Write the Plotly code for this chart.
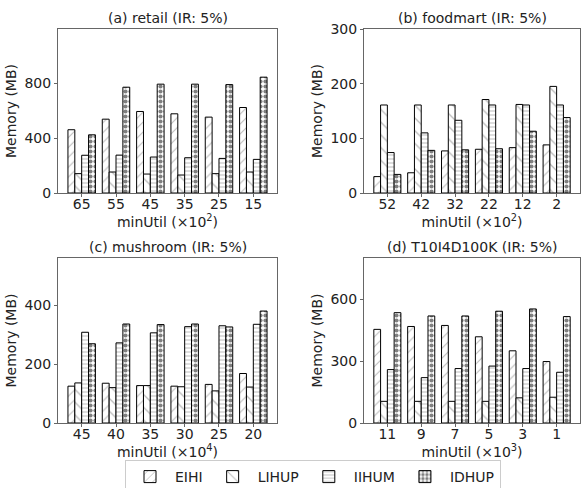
import plotly.graph_objects as go

series = ["EIHI", "LIHUP", "IIHUM", "IDHUP"]

retail_x = ["65", "55", "45", "35", "25", "15"]
retail_EIHI = [461, 538, 594, 577, 553, 623]
retail_LIHUP = [141, 153, 138, 131, 141, 153]
retail_IIHUM = [275, 276, 262, 257, 252, 245]
retail_IDHUP = [424, 771, 793, 793, 790, 844]

foodmart_x = ["52", "42", "32", "22", "12", "2"]
foodmart_EIHI = [30, 37, 77, 80, 83, 88]
foodmart_LIHUP = [161, 161, 161, 171, 162, 195]
foodmart_IIHUM = [74, 110, 133, 161, 161, 161]
foodmart_IDHUP = [34, 78, 79, 81, 113, 138]

mushroom_x = ["45", "40", "35", "30", "25", "20"]
mushroom_EIHI = [125, 135, 127, 125, 131, 168]
mushroom_LIHUP = [136, 120, 127, 123, 109, 122]
mushroom_IIHUM = [308, 272, 306, 327, 330, 335]
mushroom_IDHUP = [269, 336, 334, 336, 326, 380]

t10_x = ["11", "9", "7", "5", "3", "1"]
t10_EIHI = [454, 468, 473, 418, 350, 298]
t10_LIHUP = [105, 105, 105, 105, 122, 125]
t10_IIHUM = [259, 220, 264, 276, 264, 246]
t10_IDHUP = [535, 519, 519, 542, 553, 516]

titles = ["(a) retail (IR: 5%)", "(b) foodmart (IR: 5%)",
          "(c) mushroom (IR: 5%)", "(d) T10I4D100K (IR: 5%)"]
xlabels = ["minUtil (×10<sup>2</sup>)", "minUtil (×10<sup>2</sup>)",
           "minUtil (×10<sup>4</sup>)", "minUtil (×10<sup>3</sup>)"]
yranges = [[0, 1195], [0, 300], [0, 560], [0, 800]]
yticks = [[0, 400, 800], [0, 100, 200, 300], [0, 200, 400], [0, 300, 600]]

panels = [
    (retail_x, [retail_EIHI, retail_LIHUP, retail_IIHUM, retail_IDHUP]),
    (foodmart_x, [foodmart_EIHI, foodmart_LIHUP, foodmart_IIHUM, foodmart_IDHUP]),
    (mushroom_x, [mushroom_EIHI, mushroom_LIHUP, mushroom_IIHUM, mushroom_IDHUP]),
    (t10_x, [t10_EIHI, t10_LIHUP, t10_IIHUM, t10_IDHUP]),
]

W, H = 581, 488
xdoms = [[58 / W, 277 / W], [364 / W, 580 / W]]
ydoms = [[1 - 193 / H, 1 - 29 / H], [1 - 423 / H, 1 - 258 / H]]

patterns = [
    dict(shape="/", fgcolor="#777777", bgcolor="white", size=7, solidity=0.15),
    dict(shape="\\", fgcolor="#777777", bgcolor="white", size=9, solidity=0.15),
    dict(shape="-", fgcolor="#777777", bgcolor="white", size=4, solidity=0.25),
    dict(shape=".", fgcolor="black", bgcolor="white", size=5, solidity=0.55),
]

FONT = "DejaVu Sans"
TXT = "#222222"

fig = go.Figure()
layout = {}
annotations = []
for i, (cats, vals) in enumerate(panels):
    r, c = divmod(i, 2)
    xa = "x" if i == 0 else f"x{i+1}"
    ya = "y" if i == 0 else f"y{i+1}"
    for k, name in enumerate(series):
        fig.add_trace(go.Bar(
            x=cats, y=vals[k], name=name, xaxis=xa, yaxis=ya,
            marker=dict(color="white", line=dict(color="black", width=1),
                        pattern=patterns[k]),
            showlegend=(i == 0), legendgroup=name, offsetgroup=name,
        ))
    layout["xaxis" if i == 0 else f"xaxis{i+1}"] = dict(
        domain=xdoms[c], anchor=ya, type="category", range=[-0.69, 5.69],
        showline=True, mirror=True, linecolor="#666666", linewidth=1,
        ticks="outside", ticklen=3, tickcolor="#666666", ticklabelstandoff=-5,
        tickfont=dict(size=14, family=FONT, color=TXT),
        title=dict(text=xlabels[i], font=dict(size=14, family=FONT, color=TXT), standoff=0),
        showgrid=False, fixedrange=True, automargin=False,
    )
    layout["yaxis" if i == 0 else f"yaxis{i+1}"] = dict(
        domain=ydoms[r], anchor=xa, range=yranges[i], tickvals=yticks[i],
        showline=True, mirror=True, linecolor="#666666", linewidth=1,
        ticks="outside", ticklen=3, tickcolor="#666666",
        tickfont=dict(size=14, family=FONT, color=TXT),
        title=dict(text="Memory (MB)", font=dict(size=14, family=FONT, color=TXT), standoff=4),
        showgrid=False, zeroline=False, fixedrange=True, automargin=False,
    )
    annotations.append(dict(
        text=titles[i], xref="paper", yref="paper",
        x=(xdoms[c][0] + xdoms[c][1]) / 2, y=ydoms[r][1] + 1 / H,
        xanchor="center", yanchor="bottom", showarrow=False,
        font=dict(size=14, family=FONT, color=TXT),
    ))

fig.update_layout(
    width=W, height=H,
    margin=dict(l=0, r=0, t=0, b=0, autoexpand=False),
    paper_bgcolor="white", plot_bgcolor="white",
    barmode="group", bargap=0.2, bargroupgap=0,
    font=dict(family=FONT, size=14, color=TXT),
    annotations=annotations,
    legend=dict(orientation="h", x=125 / W, xanchor="left", y=-6 / H, yanchor="bottom",
                bordercolor="#cccccc", borderwidth=1, bgcolor="white",
                font=dict(size=14, family=FONT, color=TXT),
                itemwidth=40, tracegroupgap=0),
    **layout,
)

fig.write_html("out.html", config={"displayModeBar": False},
               post_script="document.body.style.margin='0';")
